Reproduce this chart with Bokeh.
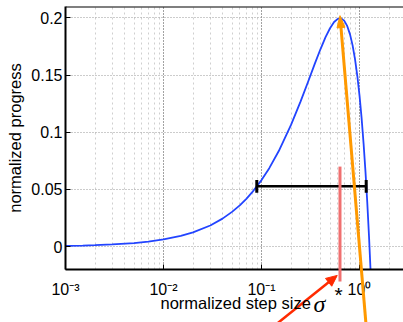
import math
from bokeh.plotting import figure
from bokeh.models import (FixedTicker, CustomJSTickFormatter, Span, Range1d)
from bokeh.core.properties import value
from bokeh.embed import file_html
from bokeh.resources import INLINE

# ---- data ----
sigma = [0.001, 0.0015, 0.002, 0.003, 0.005, 0.007, 0.01, 0.015, 0.02, 0.03,
         0.04, 0.05, 0.06, 0.07, 0.08, 0.1, 0.12, 0.15, 0.2, 0.25, 0.3, 0.35,
         0.4, 0.45, 0.5, 0.55, 0.6, 0.65, 0.7, 0.75, 0.8, 0.85, 0.9, 0.95,
         1.0, 1.05, 1.1, 1.15, 1.2, 1.25, 1.3, 1.35]
progress = [0.0006, 0.0009, 0.0013, 0.0019, 0.0031, 0.0044, 0.0063, 0.0094,
            0.0124, 0.0185, 0.0245, 0.0304, 0.0361, 0.0418, 0.0474, 0.0582,
            0.0686, 0.0836, 0.1064, 0.1268, 0.1446, 0.1600, 0.1728, 0.1832,
            0.1910, 0.1964, 0.1992, 0.1996, 0.1974, 0.1928, 0.1856, 0.1760,
            0.1638, 0.1492, 0.1320, 0.1124, 0.0902, 0.0656, 0.0384, 0.0088,
            -0.0234, -0.0580]

bar_x = [0.0895, 1.17]          # horizontal range bar
bar_y = 0.0527
cap_half = 0.0055

sigma_star = 0.632              # optimal step size
star_line_y = [-0.0305, 0.07]

orange_start = (1.179, -0.0733)
orange_end = (0.632, 0.202)
red_start = (0.1178, -0.0733)
red_end = (0.592, -0.0252)

x_ticks = [1e-3, 1e-2, 1e-1, 1.0]
y_ticks = [0, 0.05, 0.1, 0.15, 0.2]
minor_x = [k * 10.0 ** e for e in range(-3, 1) for k in range(2, 10)]

x_label = "normalized step size"
sym_label = "\u03c3"
star_label = "*"
y_label = "normalized progress"

FONT = "Liberation Sans"
X0, X1, Y0, Y1 = 1e-3, 2.81, -0.02, 0.21
W, H = 403, 322
BL, BT, BB = 65, 6, 53          # frame borders (px)
FW, FH = W - BL, H - BT - BB

p = figure(width=W, height=H, x_axis_type="log",
           x_range=Range1d(X0, X1), y_range=Range1d(Y0, Y1),
           output_backend="svg", toolbar_location=None,
           min_border_left=BL, min_border_right=0, min_border_top=BT,
           min_border_bottom=BB)
p.outline_line_color = None
p.background_fill_color = "white"
p.border_fill_color = "white"

fmt_x = CustomJSTickFormatter(code="""
const e = Math.round(Math.log10(tick));
const m = {'-':'\u207b','0':'\u2070','1':'\u00b9','2':'\u00b2','3':'\u00b3'};
let s = '';
for (const c of String(e)) s += m[c];
return '10' + s;
""")
fmt_y = CustomJSTickFormatter(code="return String(parseFloat(tick.toFixed(2)));")

xt = FixedTicker(ticks=x_ticks, minor_ticks=minor_x)
p.xaxis.ticker = xt
p.xaxis.formatter = fmt_x
p.yaxis.ticker = FixedTicker(ticks=y_ticks)
p.yaxis.formatter = fmt_y

for ax in (p.xaxis[0], p.yaxis[0]):
    ax.axis_line_width = 2
    ax.axis_line_color = "black"
    ax.major_tick_in = 5
    ax.major_tick_out = 0
    ax.minor_tick_line_color = None
    ax.major_label_text_font = FONT
    ax.major_label_text_font_size = "16px"
    ax.major_label_text_color = "black"
p.xaxis.major_label_standoff = 7
p.yaxis.major_label_standoff = 3
p.yaxis.axis_label = y_label
p.yaxis.axis_label_text_font = FONT
p.yaxis.axis_label_text_font_size = "16.5px"
p.yaxis.axis_label_text_font_style = "normal"
p.yaxis.axis_label_text_color = "black"
p.yaxis.axis_label_standoff = 4

# top frame line
p.add_layout(Span(location=Y1, dimension="width", line_color="black", line_width=2))

p.xgrid.grid_line_color = "#444444"
p.xgrid.grid_line_dash = "1 2"
p.xgrid.minor_grid_line_color = "#cfcfcf"
p.xgrid.minor_grid_line_dash = "2 3"
p.ygrid.grid_line_color = "#999999"
p.ygrid.grid_line_dash = "1 2"

# curve
p.line(sigma, progress, line_color="#2244ff", line_width=1.8)

# range bar
p.segment(x0=[bar_x[0]], y0=[bar_y], x1=[bar_x[1]], y1=[bar_y],
          line_color="black", line_width=2.5)
p.segment(x0=bar_x, y0=[bar_y - cap_half] * 2, x1=bar_x, y1=[bar_y + cap_half] * 2,
          line_color="black", line_width=3)


# --- helpers (screen <-> data, same mapping as the plot frame) ---
def to_screen(x, y):
    sx = BL + FW * (math.log10(x) - math.log10(X0)) / (math.log10(X1) - math.log10(X0))
    sy = BT + FH * (Y1 - y) / (Y1 - Y0)
    return sx, sy


def to_data(sx, sy):
    lx = math.log10(X0) + (sx - BL) / FW * (math.log10(X1) - math.log10(X0))
    return 10 ** lx, Y1 - (sy - BT) / FH * (Y1 - Y0)


def arrow(start, end, color, width, hl, hw):
    a = to_screen(*start)
    t = to_screen(*end)
    L = math.hypot(t[0] - a[0], t[1] - a[1])
    dx, dy = (t[0] - a[0]) / L, (t[1] - a[1]) / L
    b = (t[0] - dx * hl, t[1] - dy * hl)
    bx, by = to_data(b[0] + dx * 2, b[1] + dy * 2)
    r = p.segment(x0=[start[0]], y0=[start[1]], x1=[bx], y1=[by],
                  line_color=color, line_width=width, level="overlay")
    pts = [t, (b[0] - dy * hw, b[1] + dx * hw), (b[0] + dy * hw, b[1] - dx * hw)]
    dpts = [to_data(*q) for q in pts]
    h = p.patch([q[0] for q in dpts], [q[1] for q in dpts], fill_color=color,
                line_color=color, line_width=1, level="overlay")
    return r, h


# sigma* vertical line (extends below the axis)
p.segment(x0=[sigma_star], y0=[star_line_y[0]], x1=[sigma_star], y1=[star_line_y[1]],
          line_color="#f07070", line_width=3, level="overlay")

# orange arrow to the peak, red arrow to sigma*
arrow(orange_start, orange_end, "#ff9900", 3, 12, 4)
arrow(red_start, red_end, "#ff2a00", 2.5, 11, 5)

# x axis label, drawn under the axis
lx, ly = to_data(160, 302)
sx_, sy_ = to_data(313, 303)
ax_, ay_ = to_data(334, 294)
p.text(x=[lx], y=[ly], text=[x_label], text_font=value(FONT), text_font_size="16.5px",
       text_color="black", text_align="left", text_baseline="alphabetic", level="overlay")
p.text(x=[sx_], y=[sy_], text=[sym_label], text_font=value("Liberation Serif"),
       text_font_style="italic", text_font_size="24px", text_color="black",
       text_align="left", text_baseline="alphabetic", level="overlay")
p.text(x=[ax_], y=[ay_], text=[star_label], text_font=value(FONT), text_font_size="21px",
       text_color="black", text_align="left", text_baseline="alphabetic", level="overlay")

open("out.html", "w").write(file_html(p, INLINE))
